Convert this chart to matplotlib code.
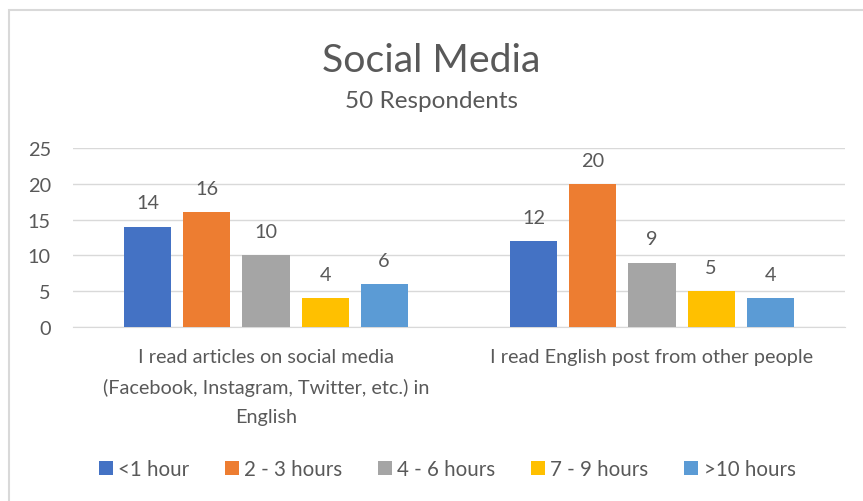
import numpy as np
import matplotlib.pyplot as plt
from matplotlib.patches import Rectangle

# ── Data ──────────────────────────────────────────────────────────────────────
categories = [
    "I read articles on social media\n(Facebook, Instagram, Twitter, etc.) in\nEnglish",
    "I read English post from other people",
]
series_names = ["<1 hour", "2 - 3 hours", "4 - 6 hours", "7 - 9 hours", ">10 hours"]
lt1 = [14, 12]
h2_3 = [16, 20]
h4_6 = [10, 9]
h7_9 = [4, 5]
gt10 = [6, 4]
colors = ["#4472C4", "#ED7D31", "#A5A5A5", "#FFC000", "#5B9BD5"]

series = [lt1, h2_3, h4_6, h7_9, gt10]
TEXT = "#595959"

plt.rcParams['font.family'] = ['Lato', 'DejaVu Sans']

fig = plt.figure(figsize=(8.63, 5.02), dpi=100)
ax = fig.add_axes([73 / 863, 1 - 328 / 502, 772 / 863, 179 / 502])

# chart frame
fig.patches.append(Rectangle((9 / 863, -0.1), 1.2, (1 - 10.5 / 502) + 0.1,
                             transform=fig.transFigure, fill=False,
                             edgecolor="#D9D9D9", linewidth=1.5))

x = np.arange(len(categories))
width = 0.122
step = 0.153
for i, (vals, name, c) in enumerate(zip(series, series_names, colors)):
    pos = x + (i - 2) * step
    ax.bar(pos, vals, width, color=c, label=name, zorder=3)
    for p, v in zip(pos, vals):
        ax.annotate(str(v), (p, v), xytext=(0, 11), textcoords='offset points',
                    ha='center', va='bottom', fontsize=14.3, color=TEXT)

ax.set_xlim(-0.5, 1.5)
ax.set_ylim(0, 25)
ax.set_yticks(range(0, 26, 5))
ax.grid(axis='y', color="#D9D9D9", linewidth=1, zorder=0)
ax.tick_params(axis='y', length=0, labelsize=14.3, labelcolor=TEXT, pad=16)
ax.tick_params(axis='x', length=0, pad=15)
ax.set_xticks(x)
ax.set_xticklabels(categories, fontsize=14.3, color=TEXT, linespacing=1.85)
for s in ax.spines.values():
    s.set_visible(False)
ax.spines['bottom'].set_visible(True)
ax.spines['bottom'].set_color("#D9D9D9")

fig.text(0.5, 1 - 61 / 502, "Social Media", ha='center', va='center',
         fontsize=28.3, color=TEXT)
fig.text(0.5, 1 - 101 / 502, "50 Respondents", ha='center', va='center',
         fontsize=17.5, color=TEXT)

fig.legend(loc='center', bbox_to_anchor=(447 / 863, 1 - 470 / 502), ncol=5,
           frameon=False, fontsize=14.8, labelcolor=TEXT, handlelength=0.68,
           handleheight=0.68, handletextpad=0.25, columnspacing=1.75)

fig.savefig("out.png", dpi=100)
